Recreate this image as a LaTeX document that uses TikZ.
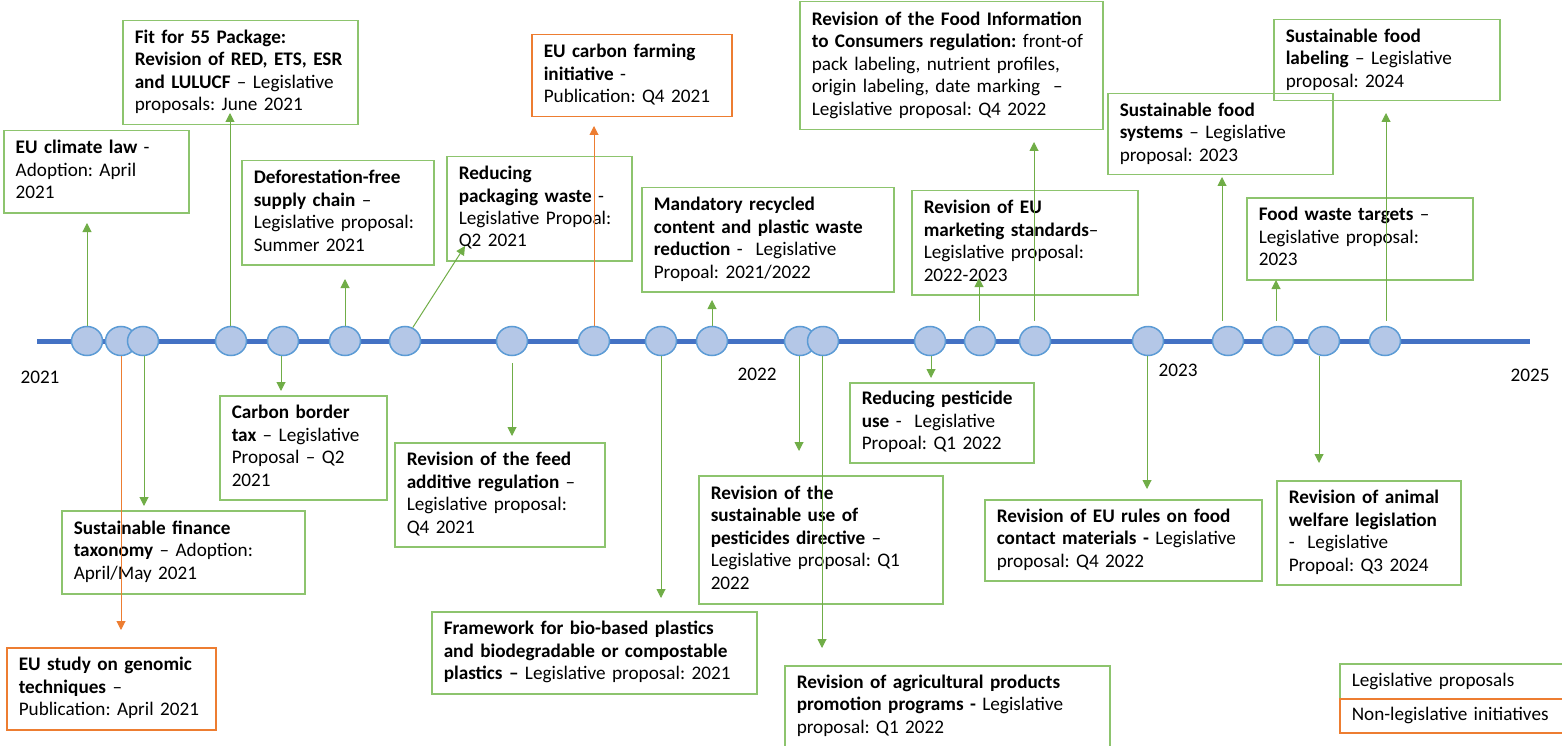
\documentclass[tikz,border=0pt]{standalone}
\usepackage{fontspec}
\setmainfont{Carlito}
\usepackage{tikz}
\usetikzlibrary{arrows.meta,shapes.geometric}
\frenchspacing

\definecolor{axisblue}{HTML}{4472C4}
\definecolor{dotfill}{HTML}{B4C7E7}
\definecolor{dotline}{HTML}{5B9BD5}
\definecolor{arrgreen}{HTML}{70AD47}
\definecolor{boxgreen}{HTML}{8DC46E}
\definecolor{nlorange}{HTML}{ED7D31}

\newcommand{\evtext}[1]{\begin{tabular}{@{}l@{}}#1\end{tabular}}

\tikzset{
  txt/.style={font=\fontsize{19.2}{22.5}\selectfont},
  legbox/.style={txt, draw=boxgreen, line width=1.5pt, anchor=north west, align=left, inner xsep=12pt, inner ysep=0pt},
  nlbox/.style={legbox, draw=nlorange},
  dot/.style={ellipse, draw=dotline, fill=dotfill, line width=1.5pt, minimum width=31pt, minimum height=29pt, inner sep=0pt},
  axis/.style={draw=axisblue, line width=5pt},
  uparr/.style={draw=arrgreen, line width=1pt, -{Triangle[length=9pt,width=9pt]}},
  nlarr/.style={uparr, draw=nlorange}
}

\begin{document}
\begin{tikzpicture}[x=1pt,y=-1pt]
\useasboundingbox (0,0) rectangle (1562,746);

% the time line
\coordinate (start) at (37,341);
\coordinate (end) at (1530,341);
\draw[axis] (start) -- (end);
\foreach \x [count=\i] in {87,121,143,231,283,345,405,512,594,661,712,800,823,930,980,1035,1148,1228,1278,1324,1385}
  \node[dot] (c\i) at (\x,341) {};

\node[txt] (y21) at (40,377) {2021};
\node[txt] (y22) at (757,374) {2022};
\node[txt] (y23) at (1178,370) {2023};
\node[txt] (y25) at (1530,375) {2025};

% items above the line
\node[legbox, text width=161pt, minimum height=82pt] (climate) at (3,130)
  {\evtext{\textbf{EU climate law} -\\Adoption: April\\2021}};
\node[legbox, text width=211pt, minimum height=104pt] (fit55) at (122,20)
  {\evtext{\textbf{Fit for 55 Package:}\\\textbf{Revision of RED, ETS, ESR}\\\textbf{and LULUCF} – Legislative\\proposals: June 2021}};
\node[legbox, text width=168pt, minimum height=104pt] (defor) at (241,160)
  {\evtext{\textbf{Deforestation-free}\\\textbf{supply chain} –\\Legislative proposal:\\Summer 2021}};
\node[legbox, text width=161pt, minimum height=104pt] (packwaste) at (446,156)
  {\evtext{\textbf{Reducing}\\\textbf{packaging waste} -\\Legislative Propoal:\\Q2 2021}};
\node[nlbox, text width=176pt, minimum height=82pt] (carbonfarm) at (531,34)
  {\evtext{\textbf{EU carbon farming}\\\textbf{initiative} -\\Publication: Q4 2021}};
\node[legbox, text width=228pt, minimum height=104pt] (recycled) at (641,187)
  {\evtext{\textbf{Mandatory recycled}\\\textbf{content and plastic waste}\\\textbf{reduction} -\ \ Legislative\\Propoal: 2021/2022}};
\node[legbox, text width=279pt, minimum height=128pt] (foodinfo) at (799,1)
  {\evtext{\textbf{Revision of the Food Information}\\\textbf{to Consumers regulation:} front-of\\pack labeling, nutrient profiles,\\origin labeling, date marking\ \ –\\Legislative proposal: Q4 2022}};
\node[legbox, text width=202pt, minimum height=104pt] (marketing) at (911,190)
  {\evtext{\textbf{Revision of EU}\\\textbf{marketing standards}–\\Legislative proposal:\\2022-2023}};
\node[legbox, text width=202pt, minimum height=81pt] (foodlabel) at (1273,19)
  {\evtext{\textbf{Sustainable food}\\\textbf{labeling} – Legislative\\proposal: 2024}};
\node[legbox, text width=201pt, minimum height=81pt] (foodsys) at (1107,93)
  {\evtext{\textbf{Sustainable food}\\\textbf{systems} – Legislative\\proposal: 2023}};
\node[legbox, text width=202pt, minimum height=82pt] (foodwaste) at (1246,197)
  {\evtext{\textbf{Food waste targets} –\\Legislative proposal:\\2023}};

% items below the line
\node[legbox, text width=143pt, minimum height=104pt] (border) at (219,395)
  {\evtext{\textbf{Carbon border}\\\textbf{tax} – Legislative\\Proposal – Q2\\2021}};
\node[legbox, text width=219pt, minimum height=83pt] (taxonomy) at (61,510)
  {\evtext{\textbf{Sustainable finance}\\\textbf{taxonomy} – Adoption:\\April/May 2021}};
\node[nlbox, text width=185pt, minimum height=82pt] (genomic) at (6,647)
  {\evtext{\textbf{EU study on genomic}\\\textbf{techniques} –\\Publication: April 2021}};
\node[legbox, text width=186pt, minimum height=104pt] (feed) at (394,442)
  {\evtext{\textbf{Revision of the feed}\\\textbf{additive regulation} –\\Legislative proposal:\\Q4 2021}};
\node[legbox, text width=301pt, minimum height=82pt] (bioplastic) at (431,611)
  {\evtext{\textbf{Framework for bio-based plastics}\\\textbf{and biodegradable or compostable}\\\textbf{plastics –} Legislative proposal: 2021}};
\node[legbox, text width=220pt, minimum height=128pt] (pestdir) at (698,475)
  {\evtext{\textbf{Revision of the}\\\textbf{sustainable use of}\\\textbf{pesticides directive} –\\Legislative proposal: Q1\\2022}};
\node[legbox, text width=301pt, minimum height=81pt] (promotion) at (784,665)
  {\evtext{\textbf{Revision of agricultural products}\\\textbf{promotion programs -} Legislative\\proposal: Q1 2022}};
\node[legbox, text width=160pt, minimum height=80pt] (pestuse) at (849,382)
  {\evtext{\textbf{Reducing pesticide}\\\textbf{use} -\ \ Legislative\\Propoal: Q1 2022}};
\node[legbox, text width=253pt, minimum height=81pt] (contact) at (984,499)
  {\evtext{\textbf{Revision of EU rules on food}\\\textbf{contact materials -} Legislative\\proposal: Q4 2022}};
\node[legbox, text width=160pt, minimum height=104pt] (welfare) at (1276,480)
  {\evtext{\textbf{Revision of animal}\\\textbf{welfare legislation}\\-\ \ Legislative\\Propoal: Q3 2024}};

% legend
\node[legbox, text width=216pt, minimum height=35pt] (legprop) at (1339,663) {Legislative proposals};
\node[nlbox, text width=216pt, minimum height=34pt] (legnon) at (1339,698) {Non-legislative initiatives};

% arrow tips
\foreach \i/\x/\y in {1/87/223, 2/121/630, 3/144/506, 4/230/113, 5/281/391, 6/345/279, 7/465/246,
  8/512/436, 9/594/126, 10/661/598, 11/712/300, 12/799/451, 13/822/648, 14/931/378, 15/979/278,
  16/1034/142, 17/1147/489, 18/1222/177, 19/1276/280, 20/1319/463, 21/1386/113}
  \coordinate (t\i) at (\x,\y);

\foreach \i in {1,4,6,11}
  \draw[uparr] (t\i |- c\i.north) -- (t\i);
\foreach \i in {15,16,18,19,21}
  \draw[uparr, shorten <=5pt] (t\i |- c\i.north) -- (t\i);
\foreach \i in {3,5,10,12,13,14,17,20}
  \draw[uparr] (t\i |- c\i.south) -- (t\i);
\draw[uparr, shorten <=7pt] (t8 |- c8.south) -- (t8);
\draw[uparr] (c7.60) -- (t7);
\draw[nlarr] (t9 |- c9.north) -- (t9);
\draw[nlarr] (t2 |- c2.south) -- (t2);
\end{tikzpicture}
\end{document}
